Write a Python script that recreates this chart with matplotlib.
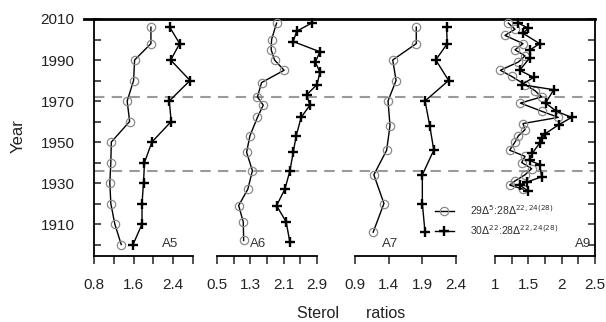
import matplotlib
matplotlib.use("Agg")
import matplotlib.pyplot as plt
from matplotlib.lines import Line2D

plt.rcParams['font.family'] = ['Liberation Sans', 'DejaVu Sans']

# ---------------- data ----------------
a5_years = [2006, 1998, 1990, 1980, 1970, 1960, 1950, 1940, 1930, 1920, 1910, 1900]
a5_r1 = [1.95, 1.95, 1.62, 1.60, 1.47, 1.52, 1.15, 1.14, 1.12, 1.14, 1.22, 1.35]
a5_r2 = [2.33, 2.53, 2.35, 2.74, 2.32, 2.36, 1.97, 1.82, 1.80, 1.77, 1.77, 1.59]

a6_years_r1 = [2008, 2000, 1995, 1990, 1985, 1979, 1972, 1968, 1962, 1953, 1945, 1936, 1927, 1919, 1911, 1902]
a6_r1 = [1.93, 1.81, 1.80, 1.88, 2.11, 1.57, 1.47, 1.61, 1.47, 1.29, 1.21, 1.35, 1.24, 1.02, 1.13, 1.14]
a6_years_r2 = [2008, 2004, 1999, 1994, 1989, 1984, 1978, 1973, 1968, 1962, 1953, 1945, 1936, 1927, 1919, 1911, 1901]
a6_r2 = [2.77, 2.41, 2.33, 2.97, 2.86, 2.97, 2.90, 2.65, 2.73, 2.52, 2.40, 2.33, 2.25, 2.13, 1.93, 2.16, 2.25]

a7_years = [2006, 1998, 1990, 1980, 1970, 1958, 1946, 1934, 1920, 1906]
a7_r1 = [1.81, 1.81, 1.46, 1.51, 1.39, 1.42, 1.37, 1.18, 1.33, 1.17]
a7_r2 = [2.26, 2.27, 2.10, 2.29, 1.94, 2.01, 2.07, 1.90, 1.90, 1.94]

a9_years_r1 = [2008, 2005, 2002, 1998, 1995, 1992, 1989, 1985, 1982, 1978, 1975, 1972, 1969,
               1965, 1962, 1959, 1956, 1953, 1950, 1946, 1943, 1940, 1937, 1934, 1931, 1929, 1927]
a9_r1 = [1.20, 1.30, 1.15, 1.42, 1.30, 1.45, 1.35, 1.08, 1.25, 1.45, 1.60, 1.70, 1.38,
         1.70, 1.95, 1.42, 1.45, 1.35, 1.30, 1.22, 1.45, 1.40, 1.55, 1.45, 1.30, 1.22, 1.42]
a9_years_r2 = [2008, 2005.5, 2003, 1998, 1995, 1991, 1985, 1981.5, 1978, 1975.5, 1969, 1965,
               1962, 1958.5, 1954, 1952, 1949.5, 1944.5, 1941, 1939, 1933, 1930.5, 1929, 1926]
a9_r2 = [1.35, 1.50, 1.42, 1.67, 1.53, 1.52, 1.37, 1.58, 1.40, 1.88, 1.76, 1.92,
         2.15, 1.96, 1.75, 1.70, 1.67, 1.56, 1.52, 1.67, 1.70, 1.48, 1.37, 1.50]

panel_names = ["A5", "A6", "A7", "A9"]
panel_xlims = [(0.8, 2.8), (0.5, 2.9), (0.9, 2.4), (1.0, 2.5)]
panel_xticks = [[0.8, 1.6, 2.4], [0.5, 1.3, 2.1, 2.9], [0.9, 1.4, 1.9, 2.4], [1, 1.5, 2, 2.5]]
panel_xticklabels = [["0.8", "1.6", "2.4"], ["0.5", "1.3", "2.1", "2.9"],
                     ["0.9", "1.4", "1.9", "2.4"], ["1", "1.5", "2", "2.5"]]
panel_minor = [[1.2, 2.0, 2.8], [0.9, 1.7, 2.5], [], [1.25, 1.75, 2.25]]
year_ticks = [1910, 1930, 1950, 1970, 1990, 2010]
year_minor = [1900, 1920, 1940, 1960, 1980, 2000]
boundary_years = [1972, 1936]
legend_labels = [r"29$\Delta^{5}$:28$\Delta^{22,24(28)}$", r"30$\Delta^{22}$:28$\Delta^{22,24(28)}$"]

series = [
    (a5_years, a5_r1, a5_years, a5_r2),
    (a6_years_r1, a6_r1, a6_years_r2, a6_r2),
    (a7_years, a7_r1, a7_years, a7_r2),
    (a9_years_r1, a9_r1, a9_years_r2, a9_r2),
]

# ---------------- layout ----------------
W, H = 606, 322
fig = plt.figure(figsize=(W / 100, H / 100), dpi=100)
top_px, bot_px = 19, 256
ylim = (2010 - (bot_px - top_px) / 2.05, 2010)
panel_px = [(94, 193), (217, 317), (355, 456), (495, 595)]

def fx(px):
    return px / W

def fy(py):
    return 1 - py / H

ax0 = fig.add_axes([fx(94), fy(bot_px), fx(595) - fx(94), fy(top_px) - fy(bot_px)])
ax0.set_xlim(0, 1)
ax0.set_ylim(*ylim)
ax0.patch.set_alpha(0)
ax0.spines['bottom'].set_visible(False)
for s in ['left', 'right']:
    ax0.spines[s].set_linewidth(1.3)
ax0.spines['top'].set_linewidth(2.0)
ax0.set_xticks([])
ax0.set_yticks(year_ticks)
ax0.set_yticks(year_minor, minor=True)
ax0.tick_params(axis='y', which='both', direction='in', length=5, width=1.1,
                left=True, right=True, labelsize=11, pad=14, colors='#222222')
for yb in boundary_years:
    ax0.axhline(yb, color='#9a9a9a', lw=1.5, ls=(0, (5, 3.5)), zorder=1)

# small outward stub at the top-left
fig.add_artist(Line2D([fx(84), fx(94)], [fy(top_px), fy(top_px)], color='black', lw=2.0))

label_px = {"A5": 170, "A6": 258, "A7": 390, "A9": 583}
for i, (name, (x1, x2)) in enumerate(zip(panel_names, panel_px)):
    ax = fig.add_axes([fx(x1), fy(bot_px), fx(x2) - fx(x1), fy(top_px) - fy(bot_px)])
    ax.patch.set_alpha(0)
    for s in ['left', 'right', 'top']:
        ax.spines[s].set_visible(False)
    ax.spines['bottom'].set_linewidth(1.3)
    ax.set_xlim(*panel_xlims[i])
    ax.set_ylim(*ylim)
    ax.set_yticks([])
    ax.set_xticks(panel_xticks[i])
    ax.set_xticklabels(panel_xticklabels[i])
    ax.set_xticks(panel_minor[i], minor=True)
    ax.tick_params(axis='x', which='both', direction='out', length=6, width=1.1,
                   labelsize=11, pad=10, colors='#222222')
    y1, v1, y2, v2 = series[i]
    ax.plot(v1, y1, color='black', lw=1.0, marker='o', ms=6, mfc='none',
            mec='#8a8a8a', mew=0.9, clip_on=False, zorder=3)
    ax.plot(v2, y2, color='black', lw=1.0, marker='+', ms=7, mew=1.7,
            clip_on=False, zorder=3)
    fig.text(fx(label_px[name]), fy(244), name, ha='center', va='center',
             fontsize=9.5, color='#333333')

# legend
h1 = Line2D([], [], color='black', lw=1.0, marker='o', ms=6, mfc='none', mec='#8a8a8a', mew=0.9)
h2 = Line2D([], [], color='black', lw=1.0, marker='+', ms=7, mew=1.7)
fig.legend([h1, h2], legend_labels, loc='center left', bbox_to_anchor=(fx(435), fy(220)),
           frameon=False, fontsize=7.5, handlelength=1.8, handletextpad=1.6,
           labelspacing=0.55, labelcolor='#333333', borderaxespad=0, borderpad=0)

# axis labels
fig.text(fx(18), fy(136), "Year", rotation=90, ha='center', va='center',
         fontsize=12, color='#222222')
fig.text(fx(351), fy(313), "Sterol      ratios", ha='center', va='center',
         fontsize=11.5, color='#222222')

fig.savefig("out.png", dpi=100)
